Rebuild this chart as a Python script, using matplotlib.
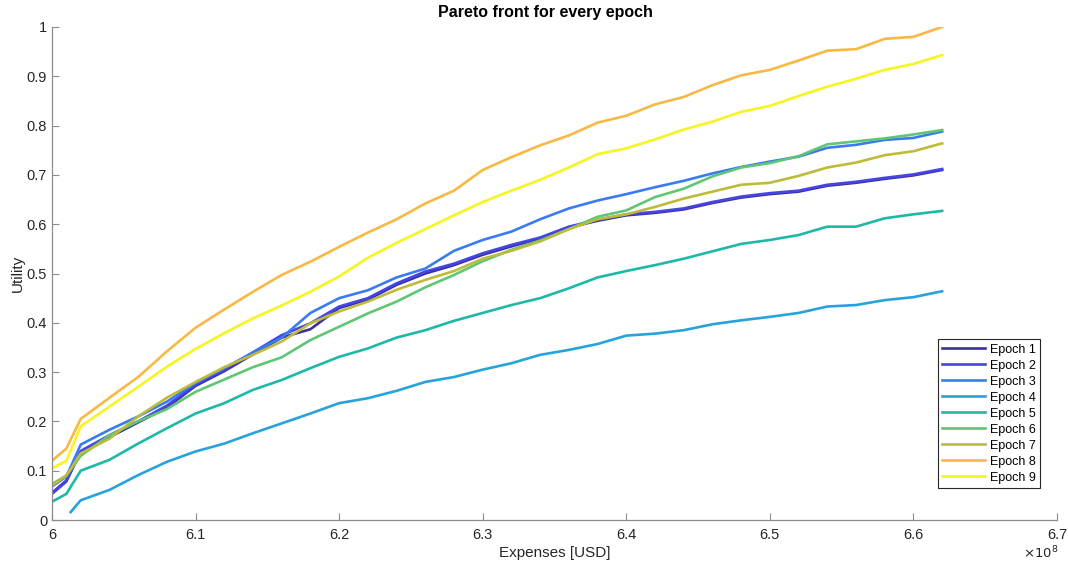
import numpy as np
import matplotlib
matplotlib.use('Agg')
import matplotlib.pyplot as plt
from matplotlib.ticker import FuncFormatter

plt.rcParams['font.family'] = ['Liberation Sans', 'DejaVu Sans']

# expenses (USD) shared by most epochs
x = [6.00, 6.01, 6.02, 6.04, 6.06, 6.08, 6.10, 6.12, 6.14, 6.16, 6.18, 6.20, 6.22, 6.24,
     6.26, 6.28, 6.30, 6.32, 6.34, 6.36, 6.38, 6.40, 6.42, 6.44, 6.46, 6.48, 6.50, 6.52,
     6.54, 6.56, 6.58, 6.60, 6.62]
x = [v * 1e8 for v in x]
x4 = [6.013e8] + x[2:]

epoch1 = [0.055, 0.080, 0.138, 0.168, 0.198, 0.228, 0.272, 0.302, 0.336, 0.370, 0.387, 0.430,
          0.447, 0.477, 0.500, 0.517, 0.538, 0.555, 0.571, 0.593, 0.607, 0.618, 0.623, 0.630,
          0.643, 0.654, 0.661, 0.666, 0.678, 0.684, 0.692, 0.699, 0.710]
epoch2 = [0.053, 0.078, 0.140, 0.172, 0.200, 0.232, 0.275, 0.305, 0.340, 0.375, 0.399, 0.433,
          0.450, 0.480, 0.504, 0.520, 0.541, 0.558, 0.573, 0.595, 0.609, 0.620, 0.625, 0.632,
          0.645, 0.656, 0.663, 0.668, 0.680, 0.686, 0.694, 0.701, 0.712]
epoch3 = [0.068, 0.088, 0.153, 0.183, 0.210, 0.240, 0.278, 0.308, 0.340, 0.370, 0.420, 0.450,
          0.466, 0.492, 0.510, 0.546, 0.568, 0.585, 0.610, 0.632, 0.648, 0.661, 0.675, 0.688,
          0.703, 0.716, 0.727, 0.737, 0.755, 0.761, 0.771, 0.775, 0.788]
epoch4 = [0.016, 0.040, 0.061, 0.091, 0.118, 0.139, 0.155, 0.176, 0.196, 0.216, 0.237, 0.247,
          0.262, 0.280, 0.290, 0.305, 0.318, 0.335, 0.345, 0.357, 0.374, 0.378, 0.385, 0.397,
          0.405, 0.412, 0.420, 0.433, 0.436, 0.446, 0.452, 0.464]
epoch5 = [0.037, 0.053, 0.100, 0.122, 0.155, 0.186, 0.216, 0.237, 0.264, 0.284, 0.308, 0.331,
          0.348, 0.370, 0.385, 0.404, 0.420, 0.436, 0.450, 0.470, 0.492, 0.505, 0.517, 0.530,
          0.545, 0.560, 0.568, 0.578, 0.595, 0.595, 0.612, 0.620, 0.627]
epoch6 = [0.073, 0.090, 0.130, 0.172, 0.200, 0.225, 0.260, 0.285, 0.310, 0.330, 0.365, 0.392,
          0.419, 0.443, 0.472, 0.497, 0.525, 0.548, 0.567, 0.590, 0.615, 0.628, 0.655, 0.672,
          0.697, 0.715, 0.724, 0.738, 0.762, 0.768, 0.774, 0.782, 0.791]
epoch7 = [0.070, 0.090, 0.135, 0.165, 0.210, 0.248, 0.280, 0.310, 0.335, 0.362, 0.399, 0.423,
          0.443, 0.467, 0.487, 0.505, 0.530, 0.546, 0.565, 0.590, 0.610, 0.620, 0.635, 0.652,
          0.666, 0.680, 0.684, 0.698, 0.715, 0.725, 0.740, 0.748, 0.764]
epoch8 = [0.120, 0.145, 0.205, 0.248, 0.290, 0.342, 0.390, 0.427, 0.463, 0.497, 0.524, 0.554,
          0.583, 0.610, 0.642, 0.668, 0.710, 0.736, 0.760, 0.780, 0.806, 0.820, 0.843, 0.858,
          0.882, 0.902, 0.913, 0.932, 0.952, 0.955, 0.976, 0.980, 1.000]
epoch9 = [0.105, 0.120, 0.190, 0.230, 0.270, 0.311, 0.347, 0.379, 0.409, 0.435, 0.463, 0.494,
          0.532, 0.562, 0.590, 0.618, 0.645, 0.668, 0.690, 0.715, 0.742, 0.754, 0.772, 0.792,
          0.808, 0.828, 0.840, 0.860, 0.879, 0.895, 0.913, 0.925, 0.943]

series = [epoch1, epoch2, epoch3, epoch4, epoch5, epoch6, epoch7, epoch8, epoch9]
labels = ['Epoch %d' % (i + 1) for i in range(9)]
colors = ['#3c2fa0', '#4545e6', '#3a7bf2', '#27a3dc', '#1db9a8',
          '#5ec674', '#bcbb3a', '#f7b944', '#f5f520']

fig = plt.figure(figsize=(10.68, 5.68), dpi=100)
ax = fig.add_axes([52 / 1068, 1 - 520 / 568, 1005 / 1068, 493 / 568])

for i, ys in enumerate(series):
    xs = x4 if i == 3 else x
    ax.plot(xs, ys, color=colors[i], lw=1.9, label=labels[i])

ax.set_xlim(6.0e8, 6.7e8)
ax.set_ylim(0, 1)
ax.set_xticks([6.0e8 + k * 0.1e8 for k in range(8)])
ax.set_yticks([k / 10 for k in range(11)])
ax.xaxis.set_major_formatter(FuncFormatter(lambda v, p: '%g' % round(v / 1e8, 2)))
ax.yaxis.set_major_formatter(FuncFormatter(lambda v, p: '%g' % round(v, 2)))

for s in ['top', 'right']:
    ax.spines[s].set_visible(False)
for s in ['left', 'bottom']:
    ax.spines[s].set_color('#8c8c8c')
    ax.spines[s].set_linewidth(0.9)
ax.tick_params(direction='in', length=5, width=0.8, color='#8c8c8c',
               labelcolor='#262626', labelsize=10.5)
ax.tick_params(axis='x', pad=6)

fig.text(545 / 1068, 1 - 12 / 568, 'Pareto front for every epoch', ha='center', va='center',
         fontsize=11.5, fontweight='bold')
ax.set_xlabel('Expenses [USD]', fontsize=11, color='#262626', labelpad=3)
ax.set_ylabel('Utility', fontsize=11, color='#262626', labelpad=1)
fig.text(1058 / 1068, 1 - 553 / 568, r'$\times10^{8}$', ha='right', va='center',
         fontsize=9.5, color='#262626')

leg = ax.legend(loc='lower right', bbox_to_anchor=(1040 / 1068, 1 - 488 / 568),
                bbox_transform=fig.transFigure, borderaxespad=0, fancybox=False,
                fontsize=9, handlelength=3.4, labelspacing=0.32, handletextpad=0.4,
                borderpad=0.35, framealpha=1)
leg.get_frame().set_edgecolor('#262626')
leg.get_frame().set_linewidth(0.8)

fig.savefig('out.png', dpi=100)
